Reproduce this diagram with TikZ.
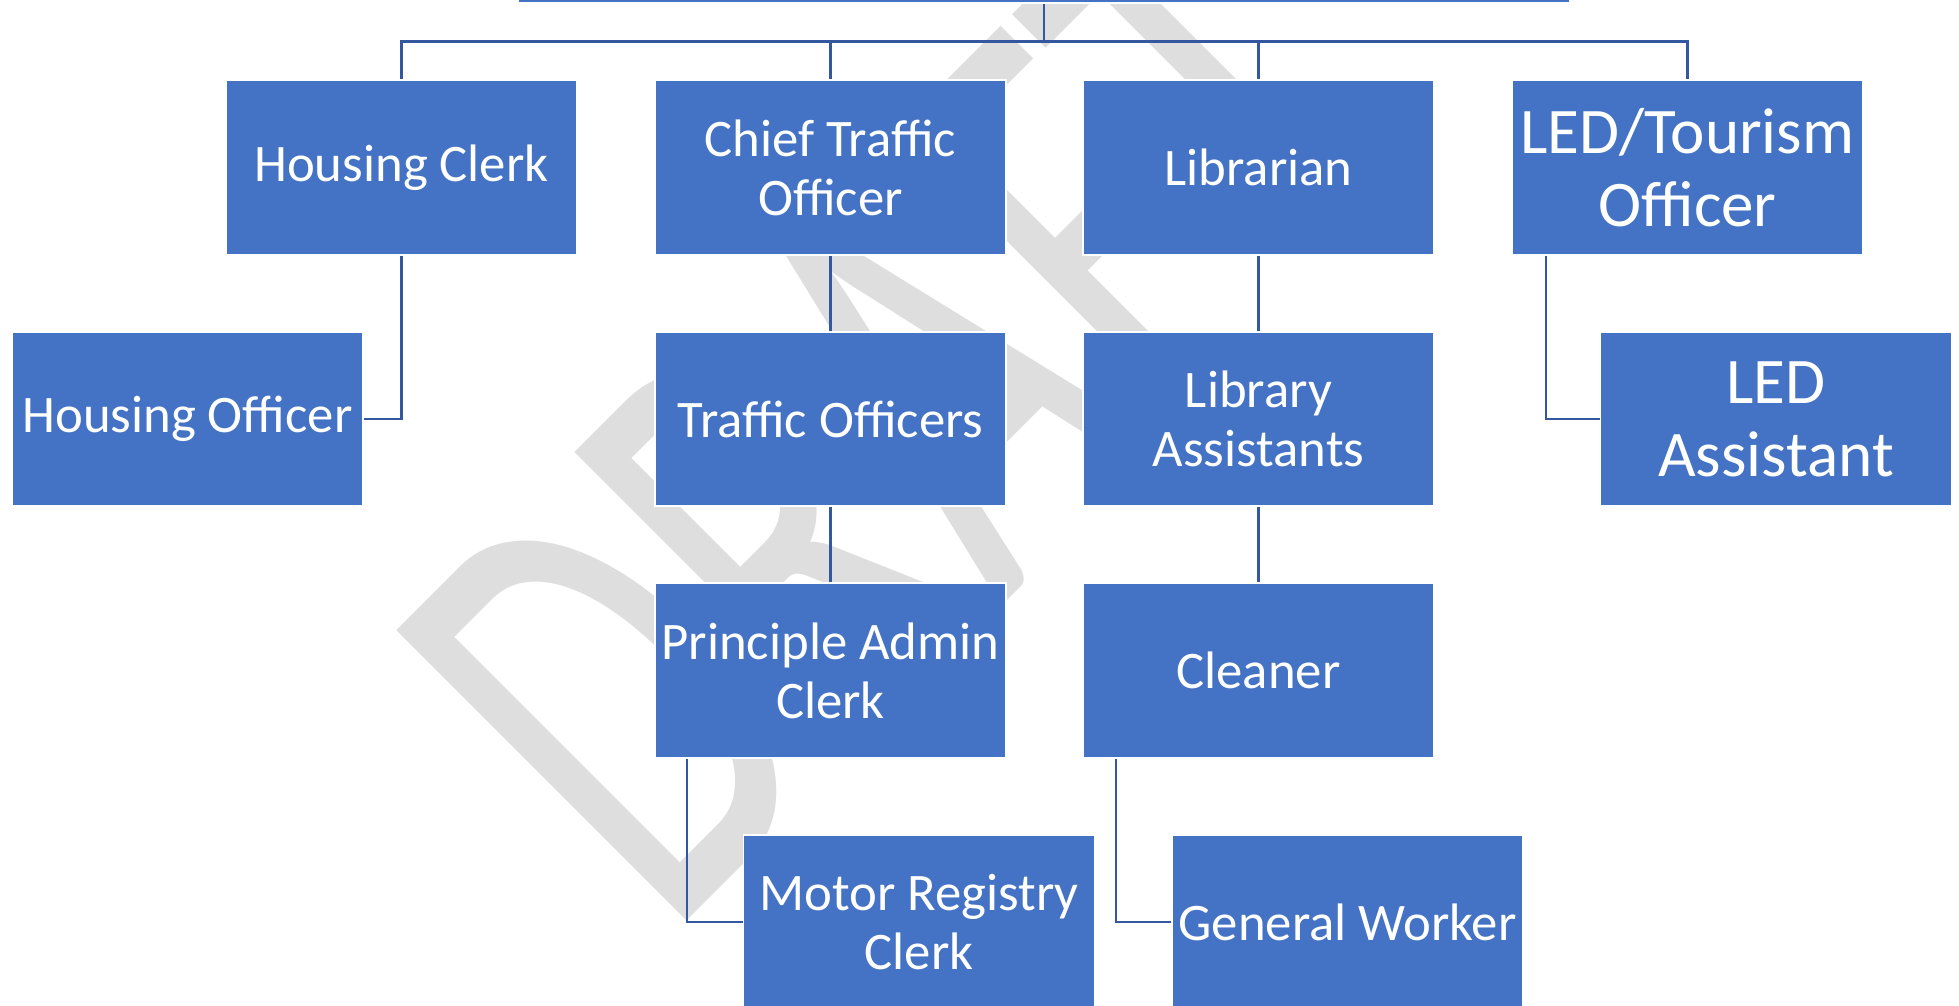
\documentclass[tikz,border=0pt]{standalone}
\usepackage{fontspec}
\setmainfont{Carlito}
\usepackage{graphicx}
\definecolor{boxblue}{RGB}{68,114,196}
\definecolor{lineblue}{RGB}{52,88,160}
\definecolor{wmgray}{RGB}{222,222,222}
\pgfdeclarelayer{back}
\pgfdeclarelayer{wires}
\pgfsetlayers{back,wires,main}

\begin{document}
\begin{tikzpicture}[x=0.01cm,y=-0.01cm,
	box/.style={fill=boxblue,draw=white,line width=0.5pt,text=white,inner sep=0pt,
		minimum width=3.51cm,minimum height=1.745cm,align=center,font=\fontsize{15}{16.8}\selectfont},
	bigbox/.style={box,font=\fontsize{18.5}{20.7}\selectfont},
	conn/.style={draw=lineblue,line width=0.7pt}]
	\useasboundingbox (0,0) rectangle (1959,1006);
	\clip (0,0) rectangle (1959,1006);
	
	% watermark
	\begin{pgfonlayer}{back}
		\node[anchor=base west,rotate=45,inner sep=0pt,text=wmgray] (wm) at (667,941)
			{\scalebox{0.636}[1]{\fontsize{182}{182}\selectfont DRAFT}};
	\end{pgfonlayer}
	
	\node[box,minimum width=10.52cm] (mgr) at (1044,-84) {};
	
	\node[box] (hc) at (401.5,167.5) {Housing Clerk};
	\node[box] (cto) at (830.5,167.5) {Chief Traffic\\Officer};
	\node[box] (lib) at (1258.5,167.5) {Librarian};
	\node[bigbox] (led) at (1687.5,167.5) {LED/Tourism\\Officer};
	
	\node[box] (ho) at (187.5,419) {Housing Officer};
	\node[box] (tro) at (830.5,419) {Traffic Officers};
	\node[box] (la) at (1258.5,419) {Library\\Assistants};
	\node[bigbox] (leda) at (1776,419) {LED\\Assistant};
	
	\node[box] (pac) at (830.5,670.5) {Principle Admin\\Clerk};
	\node[box] (cln) at (1258.5,670.5) {Cleaner};
	
	\node[box] (mrc) at (919,922) {Motor Registry\\Clerk};
	\node[box] (gw) at (1347.5,922) {General Worker};
	
	\begin{pgfonlayer}{wires}
		\coordinate (bus) at (1044,41.5);
		\draw[conn] (mgr.south) -- (bus);
		\foreach \n in {hc,cto,lib,led} \draw[conn] (bus) -| (\n.north);
		\draw[conn] (hc.south) |- (ho.east);
		\draw[conn] (cto) -- (tro); \draw[conn] (tro) -- (pac);
		\draw[conn] (lib) -- (la); \draw[conn] (la) -- (cln);
		\draw[conn] ([xshift=0.33cm]pac.south west) |- (mrc.west);
		\draw[conn] ([xshift=0.34cm]cln.south west) |- (gw.west);
		\draw[conn] ([xshift=0.35cm]led.south west) |- (leda.west);
	\end{pgfonlayer}
\end{tikzpicture}
\end{document}
